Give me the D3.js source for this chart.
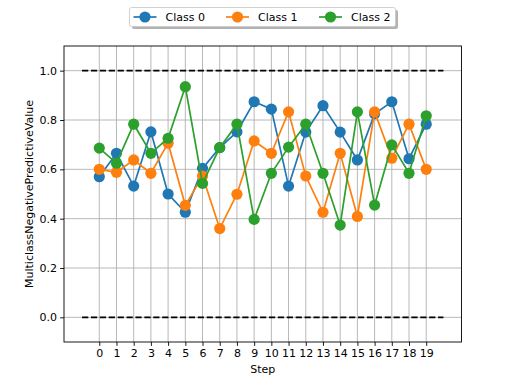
<!DOCTYPE html>
<html>
<head>
<meta charset="UTF-8">
<style>
  body { margin: 0; background: white; }
  text { font-family: "DejaVu Sans", sans-serif; }
</style>
</head>
<body>
<svg width="512" height="384"></svg>
<script src="https://d3js.org/d3.v7.min.js"></script>
<script>
// data
const steps = d3.range(20);
const classNames = ["Class 0", "Class 1", "Class 2"];
const class0 = [0.570, 0.665, 0.532, 0.752, 0.500, 0.426, 0.604, 0.688, 0.752, 0.874,
                0.844, 0.532, 0.751, 0.858, 0.751, 0.638, 0.825, 0.874, 0.643, 0.783];
const class1 = [0.600, 0.588, 0.638, 0.584, 0.706, 0.454, 0.573, 0.360, 0.499, 0.715,
                0.665, 0.833, 0.573, 0.426, 0.665, 0.409, 0.833, 0.645, 0.783, 0.600];
const class2 = [0.686, 0.625, 0.783, 0.665, 0.726, 0.935, 0.543, 0.688, 0.783, 0.397,
                0.584, 0.690, 0.783, 0.584, 0.374, 0.833, 0.455, 0.699, 0.584, 0.817];
const yTicks = [0.0, 0.2, 0.4, 0.6, 0.8, 1.0];
const refLines = [0.0, 1.0];
const colors = ["#1f77b4", "#ff7f0e", "#2ca02c"];

const series = [class0, class1, class2];

let svg = d3.select("svg");
let plotL = 64, plotR = 461.5, plotT = 46, plotB = 342;

let x = d3.scaleLinear().domain([-2.05, 21.05]).range([plotL, plotR]);
let y = d3.scaleLinear().domain([-0.1, 1.1]).range([plotB, plotT]);

// grid
let grid = svg.append("g");
grid.selectAll(".gx").data(steps).enter().append("line")
  .attr("x1", d => x(d)).attr("x2", d => x(d))
  .attr("y1", plotT).attr("y2", plotB)
  .attr("stroke", "#b0b0b0").attr("stroke-width", 0.9);
grid.selectAll(".gy").data(yTicks).enter().append("line")
  .attr("x1", plotL).attr("x2", plotR)
  .attr("y1", d => y(d)).attr("y2", d => y(d))
  .attr("stroke", "#b0b0b0").attr("stroke-width", 0.9);

// dashed reference lines from -1 to 20
svg.append("g").selectAll("line").data(refLines).enter().append("line")
  .attr("x1", x(-1)).attr("x2", x(20))
  .attr("y1", d => y(d)).attr("y2", d => y(d))
  .attr("stroke", "black").attr("stroke-width", 1.8)
  .attr("stroke-dasharray", "6.2,2.7");

// series
let line = d3.line().x((d, i) => x(steps[i])).y(d => y(d));
series.forEach((s, k) => {
  let g = svg.append("g");
  g.append("path").datum(s)
    .attr("d", line)
    .attr("fill", "none")
    .attr("stroke", colors[k])
    .attr("stroke-width", 1.7);
  g.selectAll("circle").data(s).enter().append("circle")
    .attr("cx", (d, i) => x(steps[i]))
    .attr("cy", d => y(d))
    .attr("r", 5.6)
    .attr("fill", colors[k]);
});

// axes
let xAxis = svg.append("g")
  .attr("transform", "translate(0," + plotB + ")")
  .call(d3.axisBottom(x).tickValues(steps).tickSize(3.9).tickPadding(3));
let yAxis = svg.append("g")
  .attr("transform", "translate(" + plotL + ",0)")
  .call(d3.axisLeft(y).tickValues(yTicks).tickFormat(d3.format(".1f")).tickSize(3.9).tickPadding(3));
[xAxis, yAxis].forEach(a => {
  a.select(".domain").remove();
  a.selectAll("line").attr("stroke", "black").attr("stroke-width", 0.9);
  a.selectAll("text").attr("font-size", 11).attr("fill", "black")
    .attr("font-family", "DejaVu Sans");
});

// frame
svg.append("rect")
  .attr("x", plotL).attr("y", plotT)
  .attr("width", plotR - plotL).attr("height", plotB - plotT)
  .attr("fill", "none").attr("stroke", "black").attr("stroke-width", 0.9);

// labels
svg.append("text")
  .attr("x", (plotL + plotR) / 2).attr("y", 373)
  .attr("text-anchor", "middle").attr("font-size", 11)
  .text("Step");
svg.append("text")
  .attr("transform", "translate(33," + (plotT + plotB) / 2 + ") rotate(-90)")
  .attr("text-anchor", "middle").attr("font-size", 11)
  .text("MulticlassNegativePredictiveValue");

// legend
let lg = svg.append("g");
lg.append("rect")
  .attr("x", 132).attr("y", 10).attr("width", 266).attr("height", 19)
  .attr("rx", 2).attr("fill", "#808080").attr("opacity", 0.6);
lg.append("rect")
  .attr("x", 129.5).attr("y", 7.5).attr("width", 266).attr("height", 19)
  .attr("rx", 2).attr("fill", "white").attr("stroke", "#cccccc").attr("stroke-width", 0.9);
let legX = [133.5, 226, 319];
classNames.forEach((name, k) => {
  let gx = legX[k];
  lg.append("line")
    .attr("x1", gx).attr("x2", gx + 23)
    .attr("y1", 17).attr("y2", 17)
    .attr("stroke", colors[k]).attr("stroke-width", 1.7);
  lg.append("circle")
    .attr("cx", gx + 11.5).attr("cy", 17).attr("r", 5.6)
    .attr("fill", colors[k]);
  lg.append("text")
    .attr("x", gx + 32).attr("y", 21)
    .attr("font-size", 11)
    .text(name);
});
</script>
</body>
</html>
